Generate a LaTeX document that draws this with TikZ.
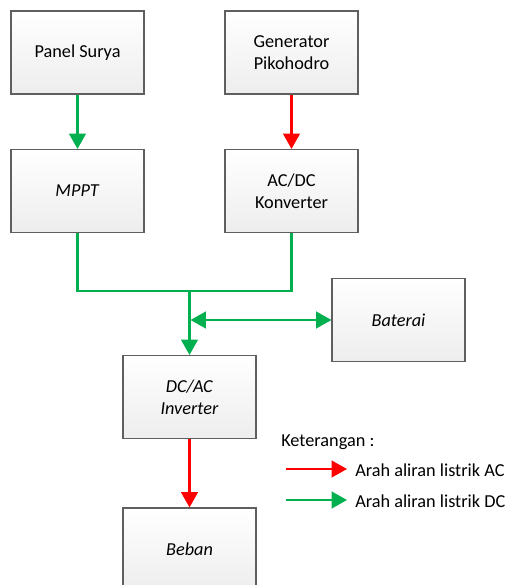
\documentclass[tikz,border=0pt]{standalone}
\usepackage{fontspec}
\setmainfont{Carlito}
\usetikzlibrary{positioning,arrows.meta}
\definecolor{dcgreen}{RGB}{0,176,80}
\definecolor{acred}{RGB}{255,0,0}
\definecolor{boxedge}{RGB}{95,95,95}

\begin{document}
\begin{tikzpicture}[x=0.75pt,y=-0.75pt,
    font=\fontsize{13.7}{16.5}\selectfont,
    block/.style={rectangle,draw=boxedge,line width=0.8pt,top color=white,bottom color=black!7,minimum width=99.75pt,minimum height=62.25pt,align=center},
    dcline/.style={draw=dcgreen,line width=1.6pt},
    acline/.style={draw=acred,line width=1.6pt},
    tip/.style={-{Triangle[length=11.5pt,width=12.5pt]}}
]
    \useasboundingbox (0,0) rectangle (505,585);

    % Sources
    \node[block] (panel) at (77.5,52.5) {Panel Surya};
    \node[block] (gen) at (291.5,52.5) {Generator\\Pikohodro};

    % Converters
    \node[block] (mppt) at (77.5,191) {\textit{MPPT}};
    \node[block] (acdc) at (291.5,191) {AC/DC\\Konverter};

    % Storage, inverter and load
    \node[block] (baterai) at (398.5,320) {\textit{Baterai}};
    \node[block] (dcac) at (189.5,397) {\textit{DC/AC}\\\textit{Inverter}};
    \node[block] (beban) at (189.5,549.5) {\textit{Beban}};

    \coordinate (bus) at (189.5,291);
    \coordinate (tap) at (190.5,320);

    \draw[dcline,tip] (panel) -- (mppt);
    \draw[acline,tip] (gen) -- (acdc);
    \draw[dcline] (mppt.south) |- (bus) -| (acdc.south);
    \draw[dcline,tip] (bus) -- (dcac);
    \draw[dcline,{Triangle[length=11.5pt,width=12.5pt]}-{Triangle[length=11.5pt,width=12.5pt]}] (tap) -- (baterai);
    \draw[acline,tip] (dcac) -- (beban);

    % Legend
    \node[anchor=west,inner sep=0pt] (ket) at (281,442) {Keterangan :};
    \coordinate (acs) at (286,469);
    \coordinate (ace) at (347,469);
    \coordinate (dcs) at (286,500);
    \coordinate (dce) at (347,500);
    \draw[acline,tip] (acs) -- (ace);
    \draw[dcline,tip] (dcs) -- (dce);
    \node[anchor=west,inner sep=0pt] (aclbl) at (355,470) {Arah aliran listrik AC};
    \node[anchor=west,inner sep=0pt] (dclbl) at (355,501) {Arah aliran listrik DC};
\end{tikzpicture}
\end{document}
